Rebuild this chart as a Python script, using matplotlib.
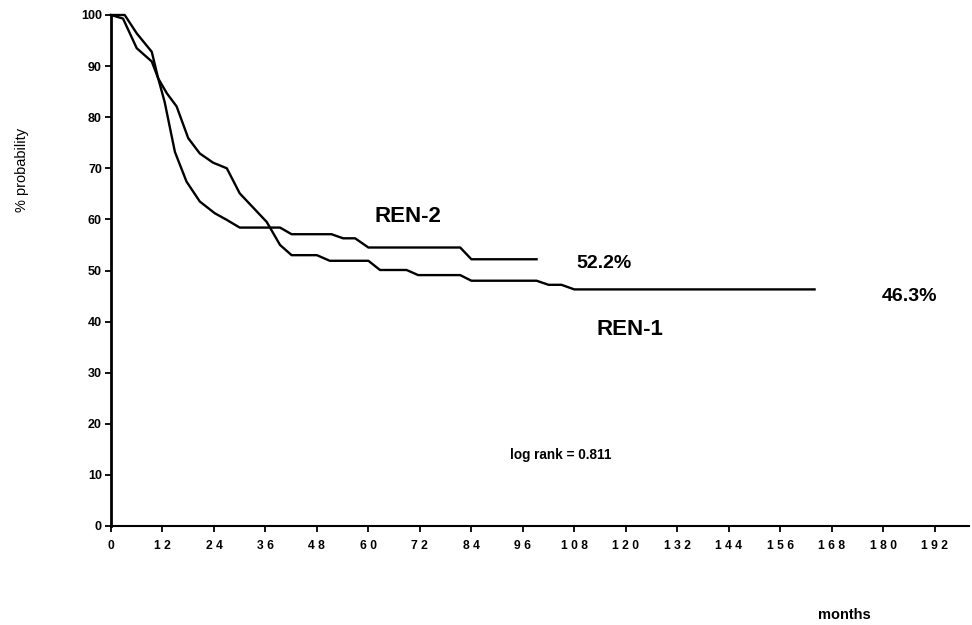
import matplotlib as mpl
import matplotlib.pyplot as plt

mpl.rcParams['font.family'] = ['Liberation Sans', 'DejaVu Sans']

# survival curves (months, % probability)
ren1_months = [0, 3.2, 6, 9.5, 11, 13, 15.3, 18, 20.7, 23.8, 27, 30, 36.3, 39.4, 42.1, 48,
               51, 60, 62.7, 68.9, 71.6, 81.4, 84, 99.2, 102, 105, 108, 164]
ren1_pct = [100, 100, 96.4, 92.8, 87.6, 84.7, 82.1, 75.9, 72.9, 71.1, 70.0, 65.1, 59.5, 55.0, 53.0, 53.0,
            51.9, 51.9, 50.1, 50.1, 49.1, 49.1, 48.0, 48.0, 47.2, 47.2, 46.3, 46.3]

ren2_months = [0, 2.8, 6, 9.5, 11, 12.5, 14.9, 17.6, 20.7, 24.2, 27, 30, 39.4, 42.1, 51.4,
               54.1, 56.9, 60, 81.4, 84, 99.2]
ren2_pct = [100, 99.3, 93.5, 90.9, 87.6, 83.0, 73.2, 67.4, 63.5, 61.2, 59.9, 58.4, 58.4, 57.1, 57.1,
            56.3, 56.3, 54.5, 54.5, 52.2, 52.2]

xticks = list(range(0, 193, 12))
xlabels = [' '.join(str(t)) for t in xticks]
yticks = list(range(0, 101, 10))

fig = plt.figure(figsize=(9.72, 6.25), dpi=100)
ax = fig.add_axes([111/972, 99/625, 858/972, 511/625])

ax.plot(ren1_months, ren1_pct, color='black', lw=1.7, clip_on=False)
ax.plot(ren2_months, ren2_pct, color='black', lw=1.7, clip_on=False)

ax.set_xlim(0, 200)
ax.set_ylim(0, 100)
ax.spines['top'].set_visible(False)
ax.spines['right'].set_visible(False)
ax.spines['left'].set_linewidth(2)
ax.spines['bottom'].set_linewidth(1.5)

ax.set_xticks(xticks)
ax.set_xticklabels(xlabels, fontsize=8.7, fontweight='bold')
ax.set_yticks(yticks)
ax.set_yticklabels([str(t) for t in yticks], fontsize=9, fontweight='bold')
ax.tick_params(axis='x', direction='out', length=4, width=1.3, pad=6)
ax.tick_params(axis='y', direction='out', length=4.5, width=1.3, pad=2)

ax.text(69.3, 60.6, 'REN-2', fontsize=16, fontweight='bold', ha='center', va='center')
ax.text(115, 51.4, '52.2%', fontsize=14, fontweight='bold', ha='center', va='center')
ax.text(186.2, 45, '46.3%', fontsize=14, fontweight='bold', ha='center', va='center')
ax.text(120.9, 38.5, 'REN-1', fontsize=16, fontweight='bold', ha='center', va='center')
ax.text(104.9, 13.9, 'log rank = 0.811', fontsize=9.8, fontweight='bold', ha='center', va='center')

fig.text(844/972, 1 - 615/625, 'months', fontsize=10.5, fontweight='bold', ha='center', va='center')
fig.text(22/972, 1 - 170/625, '% probability', fontsize=10.5, rotation=90, ha='center', va='center')

fig.savefig('out.png', dpi=100)
